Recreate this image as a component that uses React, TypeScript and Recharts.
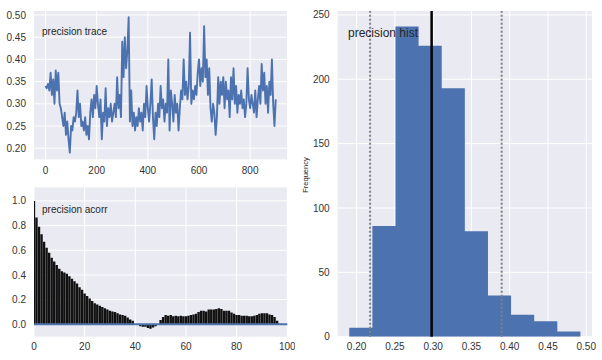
import React from 'react';
import {
  LineChart, Line, XAxis, YAxis, CartesianGrid, ComposedChart, Bar, Area,
  ReferenceLine, AreaChart,
} from 'recharts';

// ---- trace (every 5th iteration) ----
const traceStep = 5;
const traceValues = [
  0.34, 0.335, 0.345, 0.33, 0.37, 0.32, 0.355, 0.30, 0.375, 0.33,
  0.37, 0.30, 0.29, 0.27, 0.25, 0.28, 0.23, 0.26, 0.22, 0.19,
  0.25, 0.24, 0.27, 0.26, 0.28, 0.33, 0.27, 0.30, 0.25, 0.26,
  0.24, 0.27, 0.23, 0.25, 0.22, 0.28, 0.31, 0.27, 0.32, 0.29,
  0.34, 0.30, 0.27, 0.31, 0.22, 0.28, 0.26, 0.335, 0.25, 0.29,
  0.27, 0.30, 0.26, 0.28, 0.30, 0.27, 0.36, 0.29, 0.32, 0.27,
  0.44, 0.36, 0.45, 0.38, 0.42, 0.495, 0.26, 0.33, 0.25, 0.28,
  0.24, 0.27, 0.25, 0.29, 0.26, 0.28, 0.24, 0.30, 0.27, 0.34,
  0.29, 0.26, 0.30, 0.355, 0.27, 0.22, 0.28, 0.25, 0.30, 0.27,
  0.34, 0.29, 0.31, 0.26, 0.30, 0.28, 0.40, 0.24, 0.33, 0.30,
  0.26, 0.32, 0.28, 0.30, 0.24, 0.29, 0.33, 0.31, 0.40, 0.32,
  0.35, 0.31, 0.34, 0.46, 0.30, 0.33, 0.31, 0.34, 0.32, 0.37,
  0.40, 0.34, 0.38, 0.35, 0.475, 0.36, 0.40, 0.32, 0.38, 0.29,
  0.26, 0.30, 0.28, 0.23, 0.27, 0.36, 0.30, 0.35, 0.32, 0.36,
  0.29, 0.35, 0.31, 0.33, 0.27, 0.36, 0.31, 0.38, 0.30, 0.34,
  0.28, 0.32, 0.30, 0.33, 0.29, 0.31, 0.27, 0.30, 0.38, 0.31,
  0.29, 0.32, 0.30, 0.28, 0.33, 0.27, 0.31, 0.34, 0.30, 0.39,
  0.33, 0.37, 0.30, 0.34, 0.28, 0.35, 0.32, 0.40, 0.30, 0.25,
  0.31,
];
const traceXTicks = [0, 200, 400, 600, 800];
const traceYTicks = [0.2, 0.25, 0.3, 0.35, 0.4, 0.45, 0.5];

// ---- autocorrelation, lags 0..99 ----
const acorrValues = [
  1.0, 0.865, 0.79, 0.73, 0.67, 0.62, 0.58, 0.54, 0.51, 0.48,
  0.45, 0.43, 0.42, 0.41, 0.39, 0.37, 0.35, 0.33, 0.30, 0.28,
  0.25, 0.23, 0.21, 0.19, 0.17, 0.16, 0.15, 0.14, 0.13, 0.12,
  0.11, 0.105, 0.10, 0.09, 0.08, 0.075, 0.07, 0.055, 0.04, 0.03,
  0.0, -0.005, -0.015, -0.02, -0.02, -0.03, -0.035, -0.025, -0.015, 0.0,
  0.035, 0.06, 0.075, 0.07, 0.075, 0.065, 0.07, 0.065, 0.07, 0.065,
  0.065, 0.07, 0.075, 0.08, 0.085, 0.10, 0.11, 0.11, 0.105, 0.12,
  0.12, 0.12, 0.125, 0.13, 0.125, 0.11, 0.11, 0.11, 0.095, 0.085,
  0.075, 0.075, 0.07, 0.07, 0.07, 0.065, 0.065, 0.07, 0.075, 0.085,
  0.09, 0.09, 0.09, 0.08, 0.075, 0.06, 0.03, 0.005, -0.003, -0.003,
];
const acorrXTicks = [0, 20, 40, 60, 80, 100];
const acorrYTicks = [0, 0.2, 0.4, 0.6, 0.8, 1.0];

// ---- histogram ----
const binEdges = [0.1904, 0.2206, 0.2508, 0.281, 0.3112, 0.3414, 0.3716, 0.4018, 0.432, 0.4622, 0.4924];
const binCounts = [7, 86, 241, 226, 193, 82, 32, 17, 12, 4];
const histMean = 0.298;
const histHpd = [0.2176, 0.3895];
const histXTicks = [0.2, 0.25, 0.3, 0.35, 0.4, 0.45, 0.5];
const histYTicks = [0, 50, 100, 150, 200, 250];

const BLUE = '#4C72B0';
const BG = '#EAEAF2';
const FONT = '"Liberation Sans", Arial, sans-serif';
const TICK = { fill: '#333', fontSize: 10, fontFamily: FONT };

const traceData = traceValues.map((v, i) => ({ x: i * traceStep, v }));
const acorrData = acorrValues.map((r, lag) => ({ lag, r }));
const histData = binEdges.map((e, i) => ({ x: e, c: binCounts[Math.min(i, binCounts.length - 1)] }));

export default function App() {
  return (
    <div style={{ position: 'absolute', left: 0, top: 0, width: 602, height: 360, background: '#fff', fontFamily: FONT }}>
      {/* trace */}
      <div style={{ position: 'absolute', left: 0, top: 0 }}>
        <LineChart width={295} height={180} data={traceData} margin={{ top: 11, right: 8, left: 0, bottom: 0 }}>
          <CartesianGrid fill={BG} stroke="#fff" strokeWidth={1} horizontalValues={traceYTicks} verticalValues={traceXTicks} />
          <XAxis dataKey="x" type="number" domain={[-45, 944]} ticks={traceXTicks} allowDataOverflow
            axisLine={false} tickLine={false} height={20.7} tick={TICK} interval={0} />
          <YAxis type="number" domain={[0.175, 0.509]} ticks={traceYTicks} allowDataOverflow width={34}
            axisLine={false} tickLine={false} tick={TICK} interval={0} tickFormatter={(v: number) => v.toFixed(2)} />
          <Line dataKey="v" stroke={BLUE} strokeWidth={1.9} strokeLinejoin="round" dot={false} activeDot={false} isAnimationActive={false} />
        </LineChart>
        <div style={{ position: 'absolute', left: 42, top: 26, fontSize: 10, color: '#262626', whiteSpace: 'nowrap' }}>precision trace</div>
      </div>

      {/* acorr */}
      <div style={{ position: 'absolute', left: 0, top: 180 }}>
        <ComposedChart width={295} height={180} data={acorrData} margin={{ top: 7.3, right: 7.7, left: 0, bottom: 0 }}>
          <CartesianGrid fill={BG} stroke="#fff" strokeWidth={1} horizontalValues={acorrYTicks} verticalValues={acorrXTicks} />
          <XAxis dataKey="lag" type="number" domain={[0, 100]} ticks={acorrXTicks} allowDataOverflow
            axisLine={false} tickLine={false} height={23.3} tick={TICK} interval={0} tickSize={6} tickMargin={0} />
          <YAxis type="number" domain={[-0.1, 1.11]} ticks={acorrYTicks} allowDataOverflow width={34}
            axisLine={false} tickLine={false} tick={TICK} interval={0} tickFormatter={(v: number) => v.toFixed(1)} />
          <Bar dataKey="r" fill="#111" barSize={2.4} isAnimationActive={false} />
          <ReferenceLine y={0} stroke={BLUE} strokeWidth={2} />
        </ComposedChart>
        <div style={{ position: 'absolute', left: 42, top: 24, fontSize: 10, color: '#262626', whiteSpace: 'nowrap' }}>precision acorr</div>
      </div>

      {/* histogram */}
      <div style={{ position: 'absolute', left: 300, top: 0 }}>
        <AreaChart width={302} height={360} data={histData} margin={{ top: 11, right: 10, left: 0, bottom: 0 }}>
          <CartesianGrid fill={BG} stroke="#fff" strokeWidth={1} horizontalValues={histYTicks} verticalValues={histXTicks} />
          <XAxis dataKey="x" type="number" domain={[0.1753, 0.5075]} ticks={histXTicks} allowDataOverflow
            axisLine={false} tickLine={false} height={23.3} tick={TICK} interval={0} tickMargin={0}
            tickFormatter={(v: number) => v.toFixed(2)} />
          <YAxis type="number" domain={[0, 253.05]} ticks={histYTicks} allowDataOverflow width={37.7}
            axisLine={false} tickLine={false} tick={TICK} interval={0} />
          <Area dataKey="c" type="stepAfter" stroke="none" fill={BLUE} fillOpacity={1} dot={false} activeDot={false} isAnimationActive={false} />
          <ReferenceLine x={histMean} stroke="#000" strokeWidth={2.5} />
          {histHpd.map((h) => (
            <ReferenceLine key={h} x={h} stroke="#808080" strokeWidth={2} strokeDasharray="2 2" />
          ))}
        </AreaChart>
        <div style={{ position: 'absolute', left: 48, top: 26, fontSize: 12, color: '#262626', whiteSpace: 'nowrap' }}>precision hist</div>
        <div style={{ position: 'absolute', left: 5.5, top: 175, fontSize: 7.5, color: '#262626', whiteSpace: 'nowrap', transform: 'translate(-50%, -50%) rotate(-90deg)', lineHeight: 1 }}>Frequency</div>
      </div>
    </div>
  );
}
